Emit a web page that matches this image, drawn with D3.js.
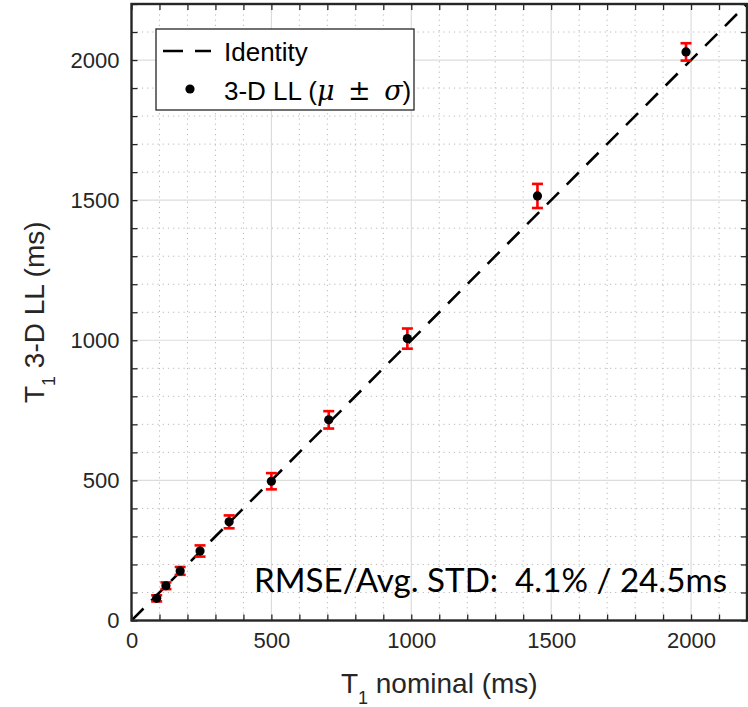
<!DOCTYPE html>
<html>
<head>
<meta charset="utf-8">
<script src="https://cdn.jsdelivr.net/npm/d3@7"></script>
<style>
  body { margin: 0; background: #fff; }
  svg { display: block; }
</style>
</head>
<body>
<svg id="chart" width="748" height="707"></svg>
<script>
// T1 phantom values (ms)
const nominal = [90, 123, 174, 245, 349, 500, 705, 986, 1451, 1982];
const measured = [79, 124, 177, 248, 352, 497, 716, 1006, 1515, 2029];
const stdev = [11, 12, 14, 20, 23, 29, 31, 36, 43, 31];
const majorTicks = [0, 500, 1000, 1500, 2000];
const minorTicks = d3.range(0, 2201, 100);
const axisMax = 2200;
const annotation = "RMSE/Avg. STD:  4.1% / 24.5ms";

const plotLeft = 131.5, plotRight = 747, plotTop = 4, plotBottom = 620.5;
const axisColor = "#262626";
const sansFont = "'Liberation Sans', Arial, Helvetica, sans-serif";
const mathFont = "'DejaVu Serif', 'Liberation Serif', serif";

const svg = d3.select("#chart");

const x = d3.scaleLinear().domain([0, axisMax]).range([plotLeft, plotRight]);
const y = d3.scaleLinear().domain([0, axisMax]).range([plotBottom, plotTop]);

// grid: dotted minor lines, solid light major lines
const grid = svg.append("g");
minorTicks.filter((v) => v % 500 !== 0).forEach((v) => {
    grid.append("line")
        .attr("x1", x(v)).attr("x2", x(v)).attr("y1", plotTop).attr("y2", plotBottom)
        .attr("stroke", "#b8b8b8").attr("stroke-width", 1).attr("stroke-dasharray", "1.2,4");
    grid.append("line")
        .attr("y1", y(v)).attr("y2", y(v)).attr("x1", plotLeft).attr("x2", plotRight)
        .attr("stroke", "#b8b8b8").attr("stroke-width", 1).attr("stroke-dasharray", "1.2,4");
});
majorTicks.filter((v) => v > 0).forEach((v) => {
    grid.append("line")
        .attr("x1", x(v)).attr("x2", x(v)).attr("y1", plotTop).attr("y2", plotBottom)
        .attr("stroke", "#dcdcdc").attr("stroke-width", 1.2);
    grid.append("line")
        .attr("y1", y(v)).attr("y2", y(v)).attr("x1", plotLeft).attr("x2", plotRight)
        .attr("stroke", "#dcdcdc").attr("stroke-width", 1.2);
});

svg.append("clipPath").attr("id", "plotClip")
    .append("rect").attr("x", plotLeft).attr("y", plotTop)
    .attr("width", plotRight - plotLeft).attr("height", plotBottom - plotTop);

// identity line
svg.append("line")
    .attr("clip-path", "url(#plotClip)")
    .attr("x1", x(0)).attr("y1", y(0)).attr("x2", x(axisMax)).attr("y2", y(axisMax))
    .attr("stroke", "#000").attr("stroke-width", 2.6)
    .attr("stroke-dasharray", "17,11");

// error bars
const bars = svg.append("g").attr("stroke", "#ff0000").attr("stroke-width", 2.6);
nominal.forEach((n, i) => {
    const cx = x(n);
    const yHi = y(measured[i] + stdev[i]);
    const yLo = y(measured[i] - stdev[i]);
    bars.append("line").attr("x1", cx).attr("x2", cx).attr("y1", yHi).attr("y2", yLo);
    bars.append("line").attr("x1", cx - 5.5).attr("x2", cx + 5.5).attr("y1", yHi).attr("y2", yHi);
    bars.append("line").attr("x1", cx - 5.5).attr("x2", cx + 5.5).attr("y1", yLo).attr("y2", yLo);
});

// mean markers
svg.append("g").selectAll("circle")
    .data(nominal)
    .enter()
    .append("circle")
    .attr("cx", (d) => x(d))
    .attr("cy", (d, i) => y(measured[i]))
    .attr("r", 4.6)
    .attr("fill", "#000");

// axes with inward ticks on all four sides
function styleAxis(g) {
    g.select(".domain").remove();
    g.selectAll(".tick line").attr("stroke", axisColor).attr("stroke-width", 1.3);
    g.selectAll(".tick text")
        .attr("fill", axisColor)
        .attr("font-family", sansFont)
        .attr("font-size", 22);
}

svg.append("g").attr("transform", `translate(0,${plotBottom})`)
    .call(d3.axisBottom(x).tickValues(minorTicks).tickSize(-6).tickPadding(12)
        .tickFormat((d) => (majorTicks.includes(d) ? d : "")))
    .call(styleAxis);
svg.append("g").attr("transform", `translate(0,${plotTop})`)
    .call(d3.axisTop(x).tickValues(minorTicks).tickSize(-6).tickFormat(""))
    .call(styleAxis);
svg.append("g").attr("transform", `translate(${plotLeft},0)`)
    .call(d3.axisLeft(y).tickValues(minorTicks).tickSize(-6).tickPadding(12)
        .tickFormat((d) => (majorTicks.includes(d) ? d : "")))
    .call(styleAxis);
svg.append("g").attr("transform", `translate(${plotRight},0)`)
    .call(d3.axisRight(y).tickValues(minorTicks).tickSize(-6).tickFormat(""))
    .call(styleAxis);

// frame
svg.append("rect")
    .attr("x", plotLeft).attr("y", plotTop)
    .attr("width", plotRight - plotLeft).attr("height", plotBottom - plotTop)
    .attr("fill", "none").attr("stroke", axisColor).attr("stroke-width", 2.4);

// axis titles, centred on the plot like MATLAB does
const xTitle = svg.append("text")
    .attr("x", (plotLeft + plotRight) / 2).attr("y", 693)
    .attr("text-anchor", "middle")
    .attr("fill", axisColor)
    .attr("font-family", sansFont)
    .attr("font-size", 28);
xTitle.append("tspan").text("T");
xTitle.append("tspan").attr("dy", 11).attr("font-size", 18).text("1");
xTitle.append("tspan").attr("dy", -11).text(" nominal (ms)");

const yTitle = svg.append("text")
    .attr("transform", `translate(44,${(plotTop + plotBottom) / 2}) rotate(-90)`)
    .attr("text-anchor", "middle")
    .attr("fill", axisColor)
    .attr("font-family", sansFont)
    .attr("font-size", 28);
yTitle.append("tspan").text("T");
yTitle.append("tspan").attr("dy", 11).attr("font-size", 18).text("1");
yTitle.append("tspan").attr("dy", -11).text(" 3-D LL (ms)");

// legend
const legend = svg.append("g");
legend.append("rect")
    .attr("x", 156).attr("y", 29).attr("width", 258).attr("height", 81)
    .attr("fill", "#fff").attr("stroke", "#262626").attr("stroke-width", 1.3);
legend.append("line")
    .attr("x1", 163).attr("x2", 211).attr("y1", 51).attr("y2", 51)
    .attr("stroke", "#000").attr("stroke-width", 2.6).attr("stroke-dasharray", "20,12");
legend.append("circle").attr("cx", 190).attr("cy", 89).attr("r", 4.6).attr("fill", "#000");
legend.append("text")
    .attr("x", 224).attr("y", 61)
    .attr("font-family", sansFont)
    .attr("font-size", 26)
    .text("Identity");
const leg2 = legend.append("text")
    .attr("x", 224).attr("y", 100)
    .attr("font-family", sansFont)
    .attr("font-size", 26)
    .style("white-space", "pre");
leg2.append("tspan").text("3-D LL (");
leg2.append("tspan").attr("font-family", mathFont).attr("font-style", "italic").attr("font-size", 27).text("\u03bc");
leg2.append("tspan").attr("font-family", mathFont).attr("font-size", 27).text("\u2002\u00b1\u2002");
leg2.append("tspan").attr("font-family", mathFont).attr("font-style", "italic").attr("font-size", 27).text("\u03c3");
leg2.append("tspan").text(")");

// annotation
svg.append("text")
    .attr("x", 254).attr("y", 592)
    .attr("textLength", 473).attr("lengthAdjust", "spacingAndGlyphs")
    .attr("fill", "#000")
    .attr("font-family", "Lato, 'Open Sans', sans-serif")
    .attr("font-size", 32)
    .style("white-space", "pre")
    .text(annotation);
</script>
</body>
</html>
